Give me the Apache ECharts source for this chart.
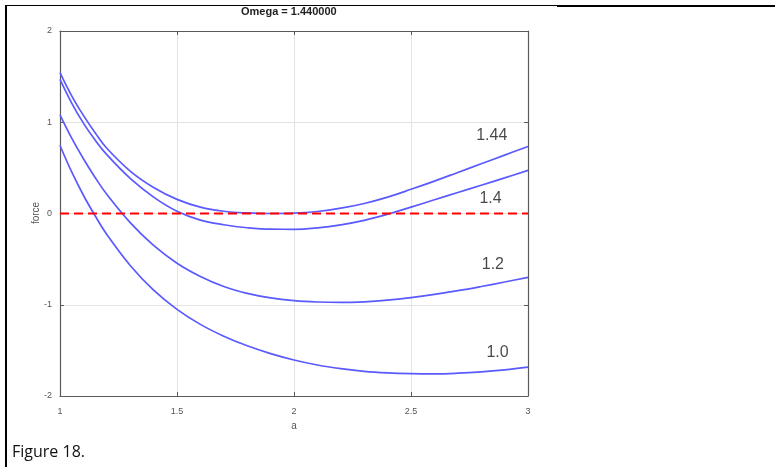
<!DOCTYPE html>
<html>
<head>
<meta charset="utf-8">
<script src="https://cdn.jsdelivr.net/npm/echarts@6/dist/echarts.min.js"></script>
<style>
html,body{margin:0;padding:0;background:#fff;}
#c{width:775px;height:467px;}
</style>
</head>
<body>
<div id="c"></div>
<script>
// ---- data ----
const aValues = [1.0,1.05,1.1,1.15,1.2,1.3,1.4,1.5,1.6,1.7,1.8,1.9,2.0,2.1,2.2,2.3,2.4,2.5,2.6,2.7,2.8,2.9,3.0];
const force144 = [1.545,1.29,1.075,0.885,0.715,0.465,0.285,0.155,0.07,0.025,0.006,0.0,0.004,0.022,0.058,0.11,0.18,0.265,0.355,0.45,0.545,0.64,0.734];
const force140 = [1.47,1.21,0.99,0.805,0.645,0.385,0.18,0.025,-0.072,-0.123,-0.156,-0.172,-0.173,-0.157,-0.124,-0.075,-0.008,0.07,0.15,0.23,0.31,0.39,0.472];
const force120 = [1.08,0.825,0.60,0.395,0.21,-0.10,-0.35,-0.545,-0.69,-0.80,-0.875,-0.925,-0.955,-0.97,-0.975,-0.968,-0.95,-0.922,-0.887,-0.846,-0.80,-0.751,-0.70];
const force100 = [0.745,0.455,0.20,-0.025,-0.23,-0.57,-0.84,-1.05,-1.215,-1.345,-1.45,-1.535,-1.605,-1.66,-1.70,-1.73,-1.747,-1.755,-1.757,-1.75,-1.735,-1.713,-1.684];
const zeroA = [1, 3];
const zeroF = [0, 0];
const curveLabels = ['1.44', '1.4', '1.2', '1.0'];
const labelA = [2.845, 2.84, 2.85, 2.87];
const labelF = [0.85, 0.165, -0.565, -1.525];
const xTicks = ['1', '1.5', '2', '2.5', '3'];
const yTicks = ['-2', '-1', '0', '1', '2'];
const titleText = 'Omega = 1.440000';
const xName = 'a';
const yName = 'force';
const captionText = 'Figure 18.';

const pair = (xs, ys) => xs.map((x, i) => [x, ys[i]]);
const curveColor = '#5a5aff';
const gridBox = {left: 60, top: 31, width: 468, height: 365};

const curveSeries = [force144, force140, force120, force100].map(f => ({
  type: 'line', data: pair(aValues, f), smooth: 0.4, showSymbol: false,
  lineStyle: {color: curveColor, width: 1.7}, itemStyle: {color: curveColor},
  silent: true, z: 3
}));

const chart = echarts.init(document.getElementById('c'), null, {renderer: 'canvas'});
const axisCol = '#5a5a5a';
const tickLab = {fontSize: 9, color: '#555', fontFamily: 'Liberation Sans'};
const edgeAxis = {
  axisLine: {show: true, onZero: false, lineStyle: {color: axisCol, width: 1.2}},
  axisTick: {show: true, inside: true, length: 4, lineStyle: {color: axisCol}},
  axisLabel: {show: false}, splitLine: {show: false}
};
chart.setOption({
  animation: false,
  backgroundColor: '#fff',
  grid: gridBox,
  xAxis: [{
    type: 'value', min: 1, max: 3, interval: 0.5,
    axisLine: {show: true, onZero: false, lineStyle: {color: axisCol, width: 1.2}},
    axisTick: {show: true, inside: true, length: 4, lineStyle: {color: axisCol}},
    axisLabel: Object.assign({margin: 11, formatter: v => xTicks[Math.round((v - 1) / 0.5)]}, tickLab),
    splitLine: {show: true, lineStyle: {color: '#e3e3e3', width: 1}},
    name: xName, nameLocation: 'middle', nameGap: 22,
    nameTextStyle: {fontSize: 10, color: '#555', fontFamily: 'Liberation Sans'}
  }, Object.assign({type: 'value', min: 1, max: 3, interval: 0.5, position: 'top'}, edgeAxis)],
  yAxis: [{
    type: 'value', min: -2, max: 2, interval: 1,
    axisLine: {show: true, onZero: false, lineStyle: {color: axisCol, width: 1.2}},
    axisTick: {show: true, inside: true, length: 4, lineStyle: {color: axisCol}},
    axisLabel: Object.assign({margin: 8, formatter: v => yTicks[Math.round(v + 2)]}, tickLab),
    splitLine: {show: true, lineStyle: {color: '#e3e3e3', width: 1}}
  }, Object.assign({type: 'value', min: -2, max: 2, interval: 1, position: 'right'}, edgeAxis)],
  series: curveSeries.concat([{
    type: 'line', data: pair(zeroA, zeroF), showSymbol: false, silent: true, z: 4,
    lineStyle: {color: '#ff0000', width: 2, type: [9, 5]}, itemStyle: {color: '#ff0000'}
  }, {
    type: 'scatter', symbolSize: 1, silent: true, z: 5,
    itemStyle: {color: 'rgba(0,0,0,0)'},
    data: labelA.map((a, i) => ({value: [a, labelF[i]], name: curveLabels[i]})),
    label: {show: true, position: 'inside', formatter: p => p.name,
      fontSize: 16, color: '#1a1a1a', fontFamily: 'Liberation Sans'}
  }]),
  graphic: [
    {type: 'text', left: 294 - 53, top: 6, style: {text: titleText, font: 'bold 11px "Liberation Sans"', fill: '#222'}},
    {type: 'text', x: 36, y: 213, rotation: Math.PI / 2,
      style: {text: yName, font: '10px "Liberation Sans"', fill: '#555', align: 'center', verticalAlign: 'middle'}},
    {type: 'text', left: 12, top: 444, style: {text: captionText, font: '16px "Open Sans"', fill: '#111'}},
    {type: 'line', shape: {x1: 5, y1: 5.5, x2: 557, y2: 5.5}, style: {stroke: '#000', lineWidth: 1}},
    {type: 'line', shape: {x1: 557, y1: 6, x2: 775, y2: 6}, style: {stroke: '#000', lineWidth: 2}},
    {type: 'line', shape: {x1: 6, y1: 5, x2: 6, y2: 467}, style: {stroke: '#000', lineWidth: 2}}
  ]
});
</script>
</body>
</html>
